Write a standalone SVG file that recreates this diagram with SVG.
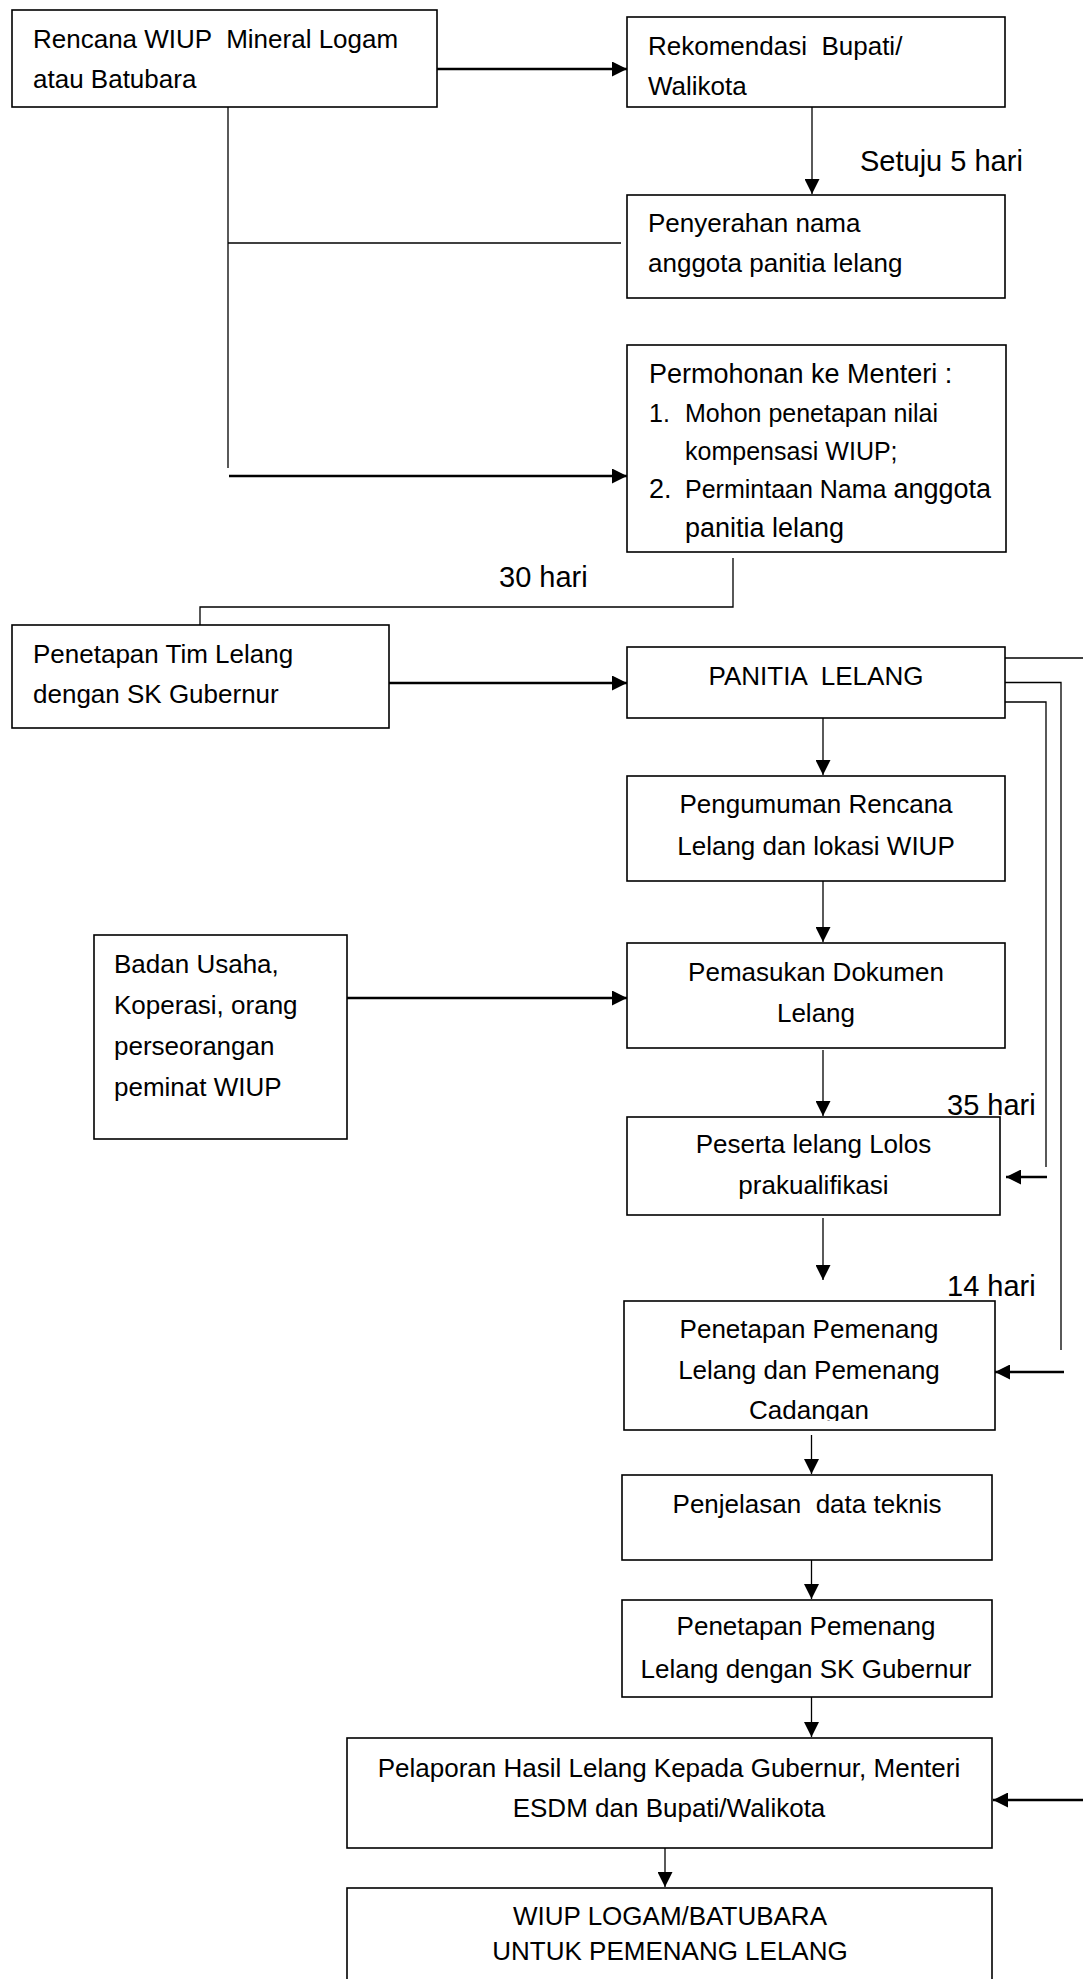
<svg xmlns="http://www.w3.org/2000/svg" width="1083" height="1979" viewBox="0 0 1083 1979">
<style>
.box{fill:#fff;stroke:#000;stroke-width:1.6}
.t{font-family:"Liberation Sans",Arial,sans-serif;font-size:26px;fill:#000}
.lbl{font-family:"Liberation Sans",Arial,sans-serif;font-size:29px;fill:#000}
.s{font-size:25px}
.c{text-anchor:middle}
.ln{stroke:#000;stroke-width:1.3;fill:none}
.thk{stroke:#000;stroke-width:2.5;fill:none}
</style>
<defs>
<marker id="ah" markerUnits="userSpaceOnUse" markerWidth="15" markerHeight="15" viewBox="0 0 15 15" refX="15" refY="7.5" orient="auto">
<path d="M0,0 L15,7.5 L0,15 Z" fill="#000"/>
</marker>
<clipPath id="clip4"><rect x="627" y="345" width="379" height="198"/></clipPath>
<clipPath id="clip11"><rect x="624" y="1301" width="371" height="120"/></clipPath>
</defs>
<rect width="1083" height="1979" fill="#fff"/>

<g id="connectors">
<line class="thk" x1="437" y1="69" x2="627" y2="69" marker-end="url(#ah)"/>
<line class="ln" x1="812" y1="107" x2="812" y2="194" marker-end="url(#ah)"/>
<line class="ln" x1="228" y1="107" x2="228" y2="468"/>
<line class="ln" x1="228" y1="243" x2="621" y2="243"/>
<line class="thk" x1="229" y1="476" x2="627" y2="476" marker-end="url(#ah)"/>
<polyline class="ln" points="733,558 733,607 200,607 200,625"/>
<line class="thk" x1="389" y1="683" x2="627" y2="683" marker-end="url(#ah)"/>
<line class="ln" x1="1005" y1="658" x2="1083" y2="658"/>
<polyline class="ln" points="1005,682.5 1061,682.5 1061,1350"/>
<polyline class="ln" points="1005,702 1046,702 1046,1167"/>
<line class="thk" x1="1047" y1="1177" x2="1006" y2="1177" marker-end="url(#ah)"/>
<line class="thk" x1="1064" y1="1372" x2="995" y2="1372" marker-end="url(#ah)"/>
<line class="thk" x1="1083" y1="1800" x2="993" y2="1800" marker-end="url(#ah)"/>
<line class="ln" x1="823" y1="718" x2="823" y2="775" marker-end="url(#ah)"/>
<line class="ln" x1="823" y1="881" x2="823" y2="942" marker-end="url(#ah)"/>
<line class="thk" x1="347" y1="998" x2="627" y2="998" marker-end="url(#ah)"/>
<line class="ln" x1="823" y1="1050" x2="823" y2="1116" marker-end="url(#ah)"/>
<line class="ln" x1="823" y1="1218" x2="823" y2="1280" marker-end="url(#ah)"/>
<line class="ln" x1="811.5" y1="1435" x2="811.5" y2="1474" marker-end="url(#ah)"/>
<line class="ln" x1="811.5" y1="1560" x2="811.5" y2="1599" marker-end="url(#ah)"/>
<line class="ln" x1="811.5" y1="1697" x2="811.5" y2="1737" marker-end="url(#ah)"/>
<line class="ln" x1="665" y1="1848" x2="665" y2="1887" marker-end="url(#ah)"/>
</g>

<g id="labels">
<text class="lbl" x="860" y="171">Setuju 5 hari</text>
<text class="lbl" x="499" y="587">30 hari</text>
<text class="lbl" x="947" y="1115">35 hari</text>
<text class="lbl" x="947" y="1296">14 hari</text>
</g>

<g id="n1">
<rect class="box" x="12" y="10" width="425" height="97"/>
<text class="t" x="33" y="48" xml:space="preserve">Rencana WIUP  Mineral Logam</text>
<text class="t" x="33" y="88">atau Batubara</text>
</g>

<g id="n2">
<rect class="box" x="627" y="17" width="378" height="90"/>
<text class="t" x="648" y="55" xml:space="preserve">Rekomendasi  Bupati/</text>
<text class="t" x="648" y="95">Walikota</text>
</g>

<g id="n3">
<rect class="box" x="627" y="195" width="378" height="103"/>
<text class="t" x="648" y="232">Penyerahan nama</text>
<text class="t" x="648" y="272">anggota panitia lelang</text>
</g>

<g id="n4">
<rect class="box" x="627" y="345" width="379" height="207"/>
<g clip-path="url(#clip4)">
<text class="t" x="649" y="383" style="font-size:27px">Permohonan ke Menteri :</text>
<text class="t s" x="649" y="422">1.</text>
<text class="t s" x="685" y="422">Mohon penetapan nilai</text>
<text class="t s" x="685" y="460">kompensasi WIUP;</text>
<text class="t" x="649" y="498" style="font-size:27px">2.</text>
<text class="t" x="685" y="498"><tspan class="s">Permintaan Nama </tspan><tspan style="font-size:27px">anggota</tspan></text>
<text class="t" x="685" y="537" style="font-size:27px">panitia lelang</text>
</g>
</g>

<g id="n5">
<rect class="box" x="12" y="625" width="377" height="103"/>
<text class="t" x="33" y="663">Penetapan Tim Lelang</text>
<text class="t" x="33" y="703">dengan SK Gubernur</text>
</g>

<g id="n6">
<rect class="box" x="627" y="647" width="378" height="71"/>
<text class="t c" x="816" y="685" xml:space="preserve">PANITIA  LELANG</text>
</g>

<g id="n7">
<rect class="box" x="627" y="776" width="378" height="105"/>
<text class="t c" x="816" y="813">Pengumuman Rencana</text>
<text class="t c" x="816" y="855">Lelang dan lokasi WIUP</text>
</g>

<g id="n8">
<rect class="box" x="627" y="943" width="378" height="105"/>
<text class="t c" x="816" y="981">Pemasukan Dokumen</text>
<text class="t c" x="816" y="1022">Lelang</text>
</g>

<g id="n9">
<rect class="box" x="94" y="935" width="253" height="204"/>
<text class="t" x="114" y="973">Badan Usaha,</text>
<text class="t" x="114" y="1014">Koperasi, orang</text>
<text class="t" x="114" y="1055">perseorangan</text>
<text class="t" x="114" y="1096">peminat WIUP</text>
</g>

<g id="n10">
<rect class="box" x="627" y="1117" width="373" height="98"/>
<text class="t c" x="813.5" y="1153">Peserta lelang Lolos</text>
<text class="t c" x="813.5" y="1194">prakualifikasi</text>
</g>

<g id="n11">
<rect class="box" x="624" y="1301" width="371" height="129"/>
<g clip-path="url(#clip11)">
<text class="t c" x="809" y="1338">Penetapan Pemenang</text>
<text class="t c" x="809" y="1379">Lelang dan Pemenang</text>
<text class="t c" x="809" y="1419">Cadangan</text>
</g>
</g>

<g id="n12">
<rect class="box" x="622" y="1475" width="370" height="85"/>
<text class="t c" x="807" y="1513" xml:space="preserve">Penjelasan  data teknis</text>
</g>

<g id="n13">
<rect class="box" x="622" y="1600" width="370" height="97"/>
<text class="t c" x="806" y="1635">Penetapan Pemenang</text>
<text class="t c" x="806" y="1678">Lelang dengan SK Gubernur</text>
</g>

<g id="n14">
<rect class="box" x="347" y="1738" width="645" height="110"/>
<text class="t c" x="669" y="1777">Pelaporan Hasil Lelang Kepada Gubernur, Menteri</text>
<text class="t c" x="669" y="1817">ESDM dan Bupati/Walikota</text>
</g>

<g id="n15">
<rect class="box" x="347" y="1888" width="645" height="110"/>
<text class="t c" x="670" y="1925">WIUP LOGAM/BATUBARA</text>
<text class="t c" x="670" y="1960">UNTUK PEMENANG LELANG</text>
</g>
</svg>
